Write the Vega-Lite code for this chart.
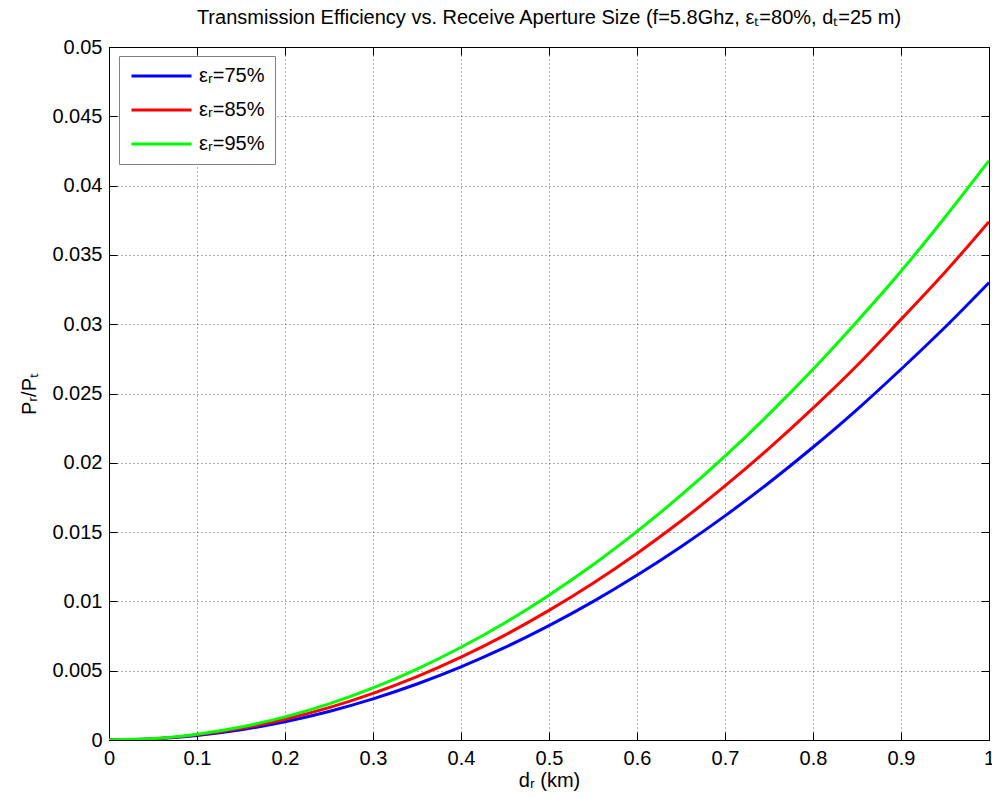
{
  "$schema": "https://vega.github.io/schema/vega-lite/v6.json",
  "autosize": {"type": "none"},
  "width": 880,
  "height": 693,
  "padding": {"left": 109, "top": 47, "right": 3, "bottom": 57},
  "background": "white",
  "config": {
    "font": "Liberation Sans",
    "view": {"stroke": "black", "strokeWidth": 1}
  },
  "title": {
    "text": "Transmission Efficiency vs. Receive Aperture Size (f=5.8Ghz, εₜ=80%, dₜ=25 m)",
    "fontSize": 20,
    "fontWeight": "normal",
    "font": "Liberation Sans",
    "color": "black",
    "anchor": "middle",
    "offset": 9
  },
  "data": {
    "values": [
      {"d": 0, "s": "εᵣ=75%", "p": 0}, {"d": 0, "s": "εᵣ=85%", "p": 0}, {"d": 0, "s": "εᵣ=95%", "p": 0},
      {"d": 0.05, "s": "εᵣ=75%", "p": 0.00008}, {"d": 0.05, "s": "εᵣ=85%", "p": 0.00009}, {"d": 0.05, "s": "εᵣ=95%", "p": 0.0001},
      {"d": 0.1, "s": "εᵣ=75%", "p": 0.00033}, {"d": 0.1, "s": "εᵣ=85%", "p": 0.00037}, {"d": 0.1, "s": "εᵣ=95%", "p": 0.00042},
      {"d": 0.15, "s": "εᵣ=75%", "p": 0.00074}, {"d": 0.15, "s": "εᵣ=85%", "p": 0.00084}, {"d": 0.15, "s": "εᵣ=95%", "p": 0.00094},
      {"d": 0.2, "s": "εᵣ=75%", "p": 0.00132}, {"d": 0.2, "s": "εᵣ=85%", "p": 0.0015}, {"d": 0.2, "s": "εᵣ=95%", "p": 0.00167},
      {"d": 0.25, "s": "εᵣ=75%", "p": 0.00206}, {"d": 0.25, "s": "εᵣ=85%", "p": 0.00234}, {"d": 0.25, "s": "εᵣ=95%", "p": 0.00261},
      {"d": 0.3, "s": "εᵣ=75%", "p": 0.00297}, {"d": 0.3, "s": "εᵣ=85%", "p": 0.00337}, {"d": 0.3, "s": "εᵣ=95%", "p": 0.00376},
      {"d": 0.35, "s": "εᵣ=75%", "p": 0.00404}, {"d": 0.35, "s": "εᵣ=85%", "p": 0.00458}, {"d": 0.35, "s": "εᵣ=95%", "p": 0.00512},
      {"d": 0.4, "s": "εᵣ=75%", "p": 0.00528}, {"d": 0.4, "s": "εᵣ=85%", "p": 0.00598}, {"d": 0.4, "s": "εᵣ=95%", "p": 0.00669},
      {"d": 0.45, "s": "εᵣ=75%", "p": 0.00668}, {"d": 0.45, "s": "εᵣ=85%", "p": 0.00757}, {"d": 0.45, "s": "εᵣ=95%", "p": 0.00846},
      {"d": 0.5, "s": "εᵣ=75%", "p": 0.00825}, {"d": 0.5, "s": "εᵣ=85%", "p": 0.00935}, {"d": 0.5, "s": "εᵣ=95%", "p": 0.01045},
      {"d": 0.55, "s": "εᵣ=75%", "p": 0.00998}, {"d": 0.55, "s": "εᵣ=85%", "p": 0.01131}, {"d": 0.55, "s": "εᵣ=95%", "p": 0.01264},
      {"d": 0.6, "s": "εᵣ=75%", "p": 0.01188}, {"d": 0.6, "s": "εᵣ=85%", "p": 0.01346}, {"d": 0.6, "s": "εᵣ=95%", "p": 0.01505},
      {"d": 0.65, "s": "εᵣ=75%", "p": 0.01394}, {"d": 0.65, "s": "εᵣ=85%", "p": 0.0158}, {"d": 0.65, "s": "εᵣ=95%", "p": 0.01766},
      {"d": 0.7, "s": "εᵣ=75%", "p": 0.01617}, {"d": 0.7, "s": "εᵣ=85%", "p": 0.01833}, {"d": 0.7, "s": "εᵣ=95%", "p": 0.02048},
      {"d": 0.75, "s": "εᵣ=75%", "p": 0.01856}, {"d": 0.75, "s": "εᵣ=85%", "p": 0.02104}, {"d": 0.75, "s": "εᵣ=95%", "p": 0.02351},
      {"d": 0.8, "s": "εᵣ=75%", "p": 0.02112}, {"d": 0.8, "s": "εᵣ=85%", "p": 0.02394}, {"d": 0.8, "s": "εᵣ=95%", "p": 0.02675},
      {"d": 0.85, "s": "εᵣ=75%", "p": 0.02384}, {"d": 0.85, "s": "εᵣ=85%", "p": 0.02702}, {"d": 0.85, "s": "εᵣ=95%", "p": 0.0302},
      {"d": 0.9, "s": "εᵣ=75%", "p": 0.02675}, {"d": 0.9, "s": "εᵣ=85%", "p": 0.03035}, {"d": 0.9, "s": "εᵣ=95%", "p": 0.03382},
      {"d": 0.95, "s": "εᵣ=75%", "p": 0.02978}, {"d": 0.95, "s": "εᵣ=85%", "p": 0.03375}, {"d": 0.95, "s": "εᵣ=95%", "p": 0.03772},
      {"d": 1.0, "s": "εᵣ=75%", "p": 0.0330}, {"d": 1.0, "s": "εᵣ=85%", "p": 0.0374}, {"d": 1.0, "s": "εᵣ=95%", "p": 0.0418}
    ]
  },
  "resolve": {"axis": {"x": "independent", "y": "independent"}},
  "layer": [
    {
      "mark": {"type": "line", "strokeWidth": 3, "interpolate": "monotone", "clip": true},
      "encoding": {
        "x": {
          "field": "d", "type": "quantitative",
          "scale": {"domain": [0, 1], "nice": false, "zero": false},
          "axis": {
            "title": "dᵣ (km)",
            "titleFont": "Liberation Sans", "titleFontSize": 20, "titleFontWeight": "normal", "titleColor": "black", "titlePadding": 2,
            "values": [0, 0.1, 0.2, 0.3, 0.4, 0.5, 0.6, 0.7, 0.8, 0.9, 1],
            "format": "~g",
            "labelFont": "Liberation Sans", "labelFontSize": 20, "labelColor": "black", "labelPadding": 16,
            "labelFlush": false, "labelOverlap": false,
            "domainColor": "black", "tickColor": "black", "tickSize": -8,
            "grid": true, "gridColor": "#333333", "gridDash": [1, 3], "gridOpacity": 0.8
          }
        },
        "y": {
          "field": "p", "type": "quantitative",
          "scale": {"domain": [0, 0.05], "nice": false},
          "axis": {
            "title": "Pᵣ/Pₜ",
            "titleFont": "Liberation Sans", "titleFontSize": 20, "titleFontWeight": "normal", "titleColor": "black", "titlePadding": 12,
            "values": [0, 0.005, 0.01, 0.015, 0.02, 0.025, 0.03, 0.035, 0.04, 0.045, 0.05],
            "format": "~g",
            "labelFont": "Liberation Sans", "labelFontSize": 20, "labelColor": "black", "labelPadding": 15,
            "labelFlush": false, "labelOverlap": false,
            "domainColor": "black", "tickColor": "black", "tickSize": -8,
            "grid": true, "gridColor": "#333333", "gridDash": [1, 3], "gridOpacity": 0.8
          }
        },
        "color": {
          "field": "s", "type": "nominal",
          "scale": {"domain": ["εᵣ=75%", "εᵣ=85%", "εᵣ=95%"], "range": ["#0000FF", "#FF0000", "#00FF00"]},
          "legend": {
            "title": null,
            "orient": "none", "legendX": 10, "legendY": 9,
            "symbolType": "M-1,0H7", "symbolSize": 225, "symbolStrokeWidth": 3,
            "labelFont": "Liberation Sans", "labelFontSize": 20, "labelColor": "black",
            "rowPadding": 14, "labelOffset": 50,
            "padding": 10,
            "strokeColor": "#808080", "fillColor": "white"
          }
        }
      }
    },
    {
      "mark": {"type": "line", "opacity": 0},
      "encoding": {
        "x": {
          "field": "d", "type": "quantitative",
          "axis": {
            "orient": "top", "title": null, "labels": false, "grid": false,
            "values": [0, 0.1, 0.2, 0.3, 0.4, 0.5, 0.6, 0.7, 0.8, 0.9, 1],
            "domainColor": "black", "tickColor": "black", "tickSize": -8
          }
        },
        "y": {
          "field": "p", "type": "quantitative",
          "axis": {
            "orient": "right", "title": null, "labels": false, "grid": false,
            "values": [0, 0.005, 0.01, 0.015, 0.02, 0.025, 0.03, 0.035, 0.04, 0.045, 0.05],
            "domainColor": "black", "tickColor": "black", "tickSize": -8
          }
        },
        "detail": {"field": "s", "type": "nominal"}
      }
    }
  ]
}
